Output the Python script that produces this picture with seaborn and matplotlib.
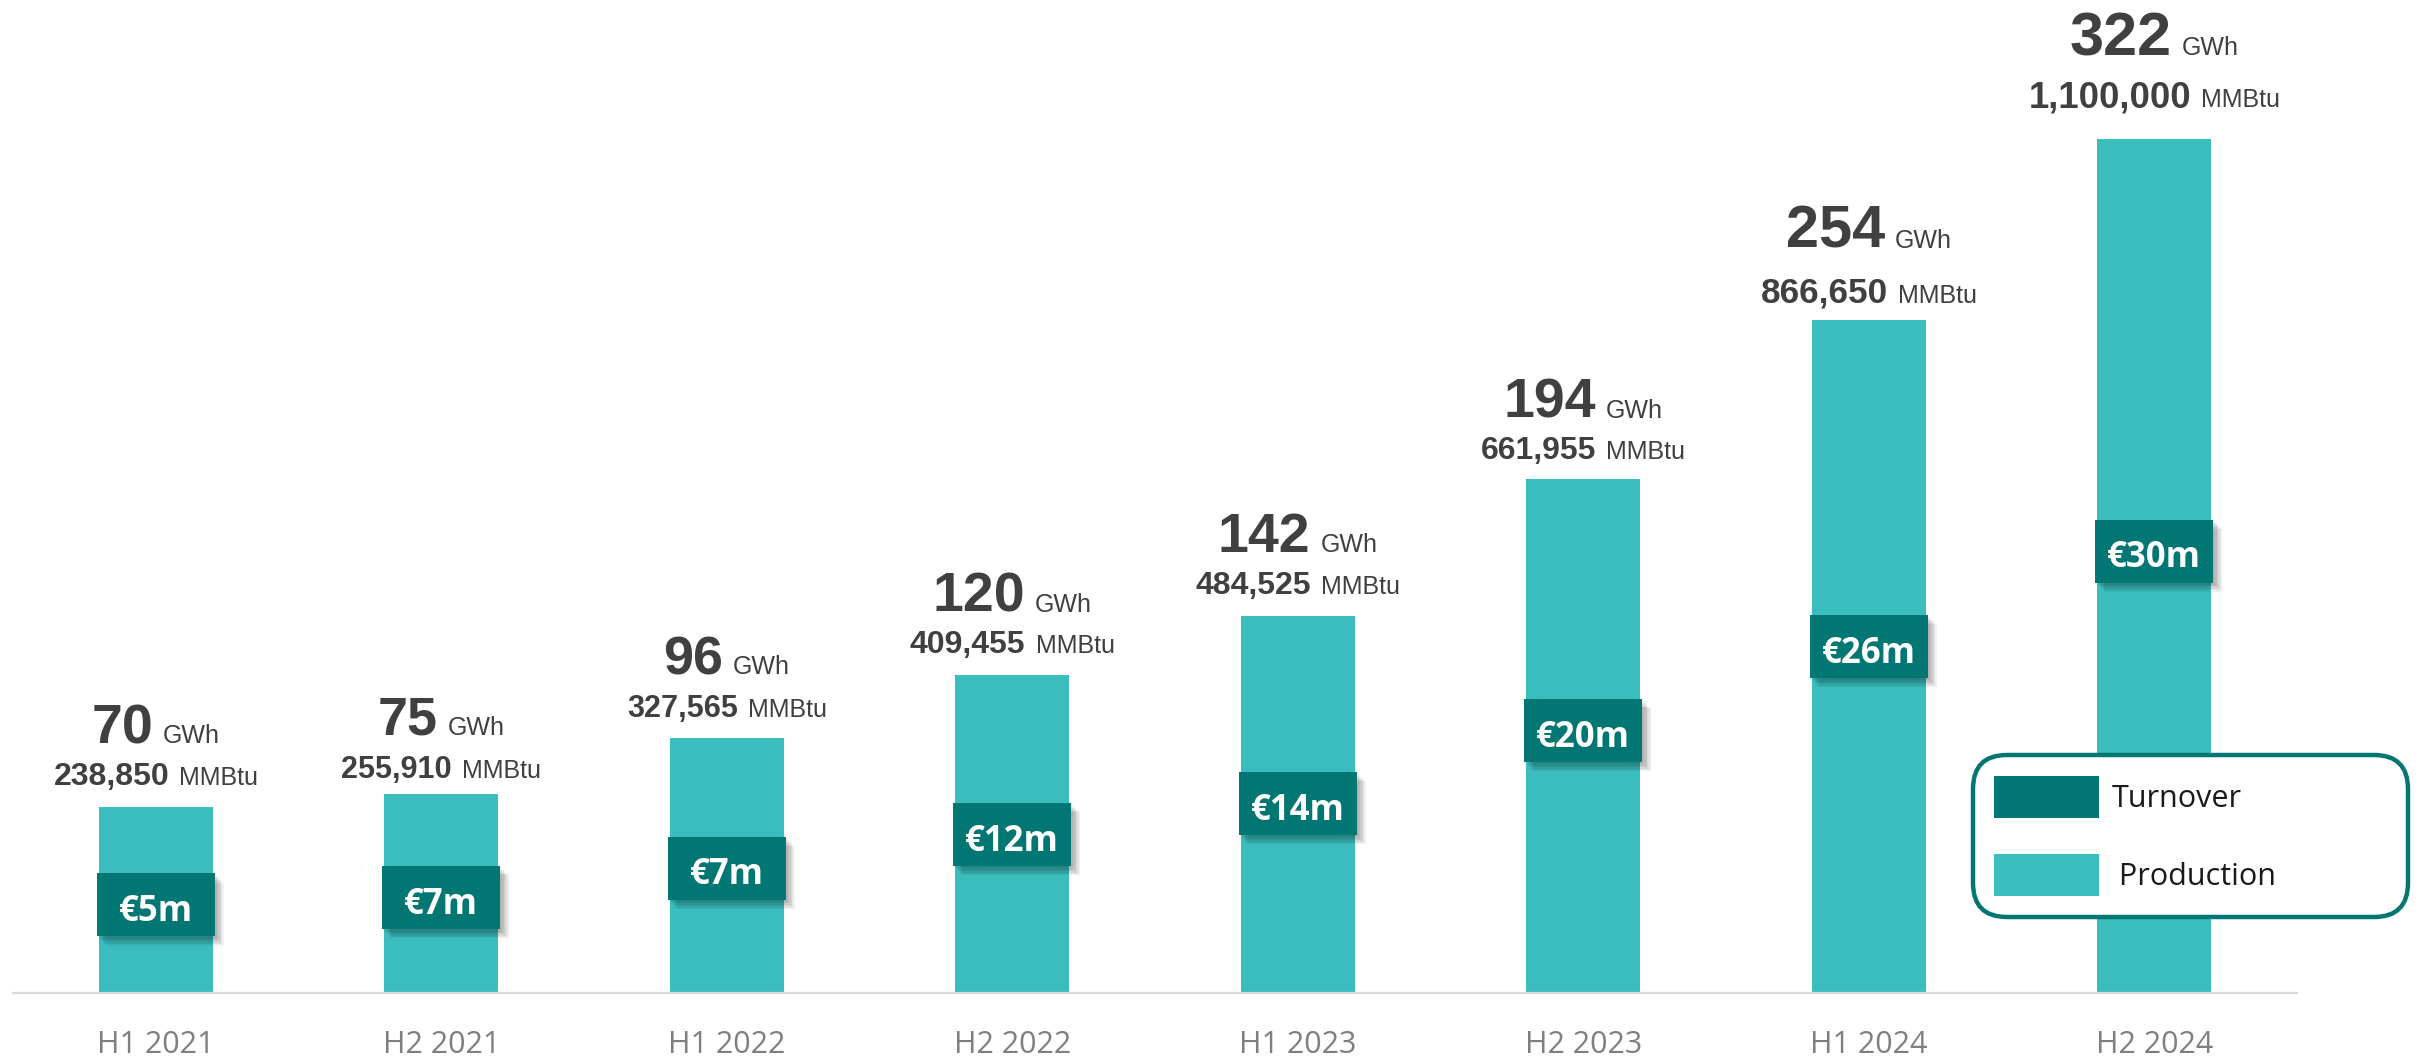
import matplotlib
matplotlib.use("Agg")
import matplotlib.pyplot as plt
import matplotlib.patheffects as pe
from matplotlib.patches import Patch
import seaborn as sns
import pandas as pd

# ---------------- data ----------------
periods = ["H1 2021", "H2 2021", "H1 2022", "H2 2022",
           "H1 2023", "H2 2023", "H1 2024", "H2 2024"]
production_gwh = [70, 75, 96, 120, 142, 194, 254, 322]
production_mmbtu = [238850, 255910, 327565, 409455, 484525, 661955, 866650, 1100000]
turnover_meur = [5, 7, 7, 12, 14, 20, 26, 30]

# ---------------- style ----------------
PROD = "#3BBCBD"
TURN = "#027672"
DARK = "#404040"
TICK = "#7F7F7F"
DPI = 100
W, H = 2419, 1056

sns.set_theme(style="white")
plt.rcParams["font.family"] = ["Liberation Sans", "DejaVu Sans"]

df = pd.DataFrame({"period": periods, "gwh": production_gwh,
                   "mmbtu": production_mmbtu, "turnover": turnover_meur})

fig = plt.figure(figsize=(W / DPI, H / DPI), dpi=DPI)
base_px = 992.7
ax = fig.add_axes([13 / W, (H - base_px) / H, 2284 / W, base_px / H])

sns.barplot(data=df, x="period", y="gwh", color=PROD, saturation=1,
            width=0.40, ax=ax, zorder=2, linewidth=0, edgecolor="none")

px_per_unit = 2.65
ax.set_ylim(0, base_px / px_per_unit)
ax.set_xlim(-0.5, len(periods) - 0.5)

# axis styling
for s in ["top", "right", "left"]:
    ax.spines[s].set_visible(False)
ax.spines["bottom"].set_color("#D9D9D9")
ax.spines["bottom"].set_linewidth(1.6)
ax.set_yticks([])
ax.set_xlabel("")
ax.set_ylabel("")
ax.tick_params(axis="x", length=0, pad=27)
for lab in ax.get_xticklabels():
    lab.set_fontfamily(["Open Sans", "DejaVu Sans"])
    lab.set_fontsize(22)
    lab.set_color(TICK)

# ---------------- turnover boxes ----------------
box_h = 63 / px_per_unit
shadow = [pe.SimplePatchShadow(offset=(k, -k), shadow_rgbFace="black", alpha=0.055)
          for k in (1.5, 2.5, 3.5, 4.5, 5.5, 6.5)] + [pe.Normal()]
for i, (v, t) in enumerate(zip(production_gwh, turnover_meur)):
    yc = 0.53 * v - 4
    ax.bar(i, box_h, bottom=yc - box_h / 2, width=0.413, color=TURN,
           linewidth=0, edgecolor="none", zorder=3, path_effects=shadow)
    ax.annotate(f"€{t}m", xy=(i, yc), xytext=(0, -11.5), textcoords="offset points",
                ha="center", va="baseline", color="white", fontsize=25,
                fontweight="bold", family=["Open Sans", "DejaVu Sans"], zorder=4)

# ---------------- value labels above bars ----------------
# per-bar size scale and offsets (px) of the two label lines above the bar top
size_scale = [1.0, 0.97, 0.97, 1.0, 1.0, 1.0, 1.07, 1.1]
line2_gap = [22, 16, 21, 22, 22, 20, 17, 32]
line_gap = [42, 43, 43, 41, 42, 41, 55, 52]

pairs = []
for i, (g, m) in enumerate(zip(production_gwh, production_mmbtu)):
    sc = size_scale[i]
    y2 = line2_gap[i] * 72 / DPI
    y1 = (line2_gap[i] + line_gap[i]) * 72 / DPI
    a = ax.annotate(f"{g}", xy=(i, g), xytext=(0, y1), textcoords="offset points",
                    ha="left", va="baseline", fontsize=40 * sc, fontweight="bold", color=DARK)
    b = ax.annotate("GWh", xy=(i, g), xytext=(0, y1), textcoords="offset points",
                    ha="left", va="baseline", fontsize=18, color=DARK)
    c = ax.annotate(f"{m:,}", xy=(i, g), xytext=(0, y2), textcoords="offset points",
                    ha="left", va="baseline", fontsize=23 * sc ** 1.4, fontweight="bold", color=DARK)
    d = ax.annotate("MMBtu", xy=(i, g), xytext=(0, y2), textcoords="offset points",
                    ha="left", va="baseline", fontsize=18, color=DARK)
    pairs.append((a, b, y1))
    pairs.append((c, d, y2))

fig.canvas.draw()
r = fig.canvas.get_renderer()
gap_px = 10
for t1, t2, yoff in pairs:
    w1 = t1.get_window_extent(r).width
    w2 = t2.get_window_extent(r).width
    total = w1 + gap_px + w2
    x1 = -total / 2
    t1.xyann = (x1 * 72 / DPI, yoff)
    t2.xyann = ((x1 + w1 + gap_px) * 72 / DPI, yoff)

# ---------------- legend ----------------
handles = [Patch(facecolor=TURN, edgecolor="none", linewidth=0, label="Turnover"),
           Patch(facecolor=PROD, edgecolor="none", linewidth=0, label=" Production")]
leg_w, leg_h = 435, 165
leg = ax.legend(handles=handles, loc="upper left", mode="expand",
                bbox_to_anchor=(1973 / W, 1 - 755 / H, leg_w / W, 0),
                bbox_transform=fig.transFigure,
                prop={"family": ["Open Sans", "DejaVu Sans"], "size": 22},
                handlelength=3.45, handleheight=1.73, handletextpad=0.4,
                labelspacing=1.2, borderpad=0.68, borderaxespad=0,
                frameon=True, fancybox=True)
fr = leg.get_frame()
fr.set_edgecolor(TURN)
fr.set_linewidth(3.2)
fr.set_facecolor("white")
fr.set_alpha(1)
fr.set_boxstyle("round,pad=0,rounding_size=1.1")
for txt in leg.get_texts():
    txt.set_color("#1A1A1A")
leg.set_zorder(10)

fig.savefig("out.png", dpi=DPI, facecolor="white")
